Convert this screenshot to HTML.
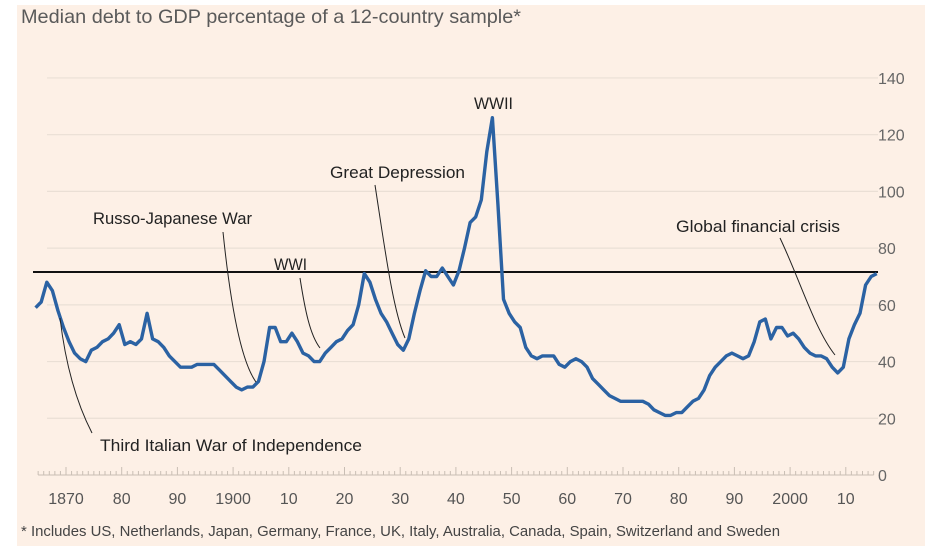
<!DOCTYPE html>
<html><head><meta charset="utf-8"><style>
html,body{margin:0;padding:0;background:#fff;}
svg{display:block;font-family:"Liberation Sans",sans-serif;}
</style></head><body>
<svg id="s" width="939" height="554" viewBox="0 0 939 554">
<rect x="17" y="5" width="908" height="541" fill="#fdf0e6"/>
<text x="21" y="23" font-size="19.5" fill="#5a5a5a" textLength="500" lengthAdjust="spacingAndGlyphs">Median debt to GDP percentage of a 12-country sample*</text>
<g id="grid" stroke="#eadfd5" stroke-width="1.2"></g>
<g id="ylab" font-size="16" fill="#666"></g>
<g id="xt" stroke="#c9beb4" stroke-width="1"></g>
<g id="xlab" font-size="16" fill="#555" text-anchor="middle"></g>
<line x1="33" y1="272" x2="878" y2="272" stroke="#111" stroke-width="2"/>
<path id="ln" fill="none" stroke="#2b62a3" stroke-width="3.4" stroke-linejoin="round"/>
<g fill="none" stroke="#222" stroke-width="1">
<path d="M223,232 C230,300 240,360 256,382"/>
<path d="M300,278 C305,310 310,335 320,348"/>
<path d="M375,185 C385,250 393,310 405,338"/>
<path d="M780,238 C800,280 815,330 835,355"/>
<path d="M92,433 C75,400 65,360 60,318"/>
</g>
<g fill="#222" font-size="16.5">
<text x="474" y="109" textLength="39" lengthAdjust="spacingAndGlyphs">WWII</text>
<text x="330" y="178" textLength="135" lengthAdjust="spacingAndGlyphs">Great Depression</text>
<text x="93" y="224" textLength="159" lengthAdjust="spacingAndGlyphs">Russo-Japanese War</text>
<text x="274" y="270" textLength="33" lengthAdjust="spacingAndGlyphs">WWI</text>
<text x="676" y="232" textLength="164" lengthAdjust="spacingAndGlyphs">Global financial crisis</text>
<text x="100" y="451" textLength="262" lengthAdjust="spacingAndGlyphs">Third Italian War of Independence</text>
</g>
<text x="21" y="536" font-size="14.5" fill="#444" textLength="759" lengthAdjust="spacingAndGlyphs">* Includes US, Netherlands, Japan, Germany, France, UK, Italy, Australia, Canada, Spain, Switzerland and Sweden</text>
</svg>
<script>
var ns="http://www.w3.org/2000/svg";
function el(p,t,a,txt){var e=document.createElementNS(ns,t);for(var k in a)e.setAttribute(k,a[k]);if(txt)e.textContent=txt;document.getElementById(p).appendChild(e);}
function Y(v){return 475-v*2.836;}
function X(y){return 66+(y-1870)*5.57;}
for(var v=20;v<=140;v+=20){el("grid","line",{x1:47,x2:878,y1:Y(v),y2:Y(v)});}
for(var v=0;v<=140;v+=20){el("ylab","text",{x:878,y:Y(v)+6},""+v);}
for(var yr=1865;yr<=2015;yr++){var big=yr%10==0;el("xt","line",{x1:X(yr),x2:X(yr),y1:475,y2:475-(big?8:4)});}
el("xt","line",{x1:X(1865),x2:X(2015),y1:475,y2:475});
var labs=["1870","80","90","1900","10","20","30","40","50","60","70","80","90","2000","10"];
for(var i=0;i<labs.length;i++){el("xlab","text",{x:X(1870+i*10),y:504},labs[i]);}
var d=[59,61,68,65,58,52,47,43,41,40,44,45,47,48,50,53,46,47,46,48,57,48,47,45,42,40,38,38,38,39,39,39,39,37,35,33,31,30,31,31,33,40,52,52,47,47,50,47,43,42,40,40,43,45,47,48,51,53,60,71,68,62,57,54,50,46,44,48,57,65,72,70,70,73,70,67,72,80,89,91,97,114,126,95,62,57,54,52,45,42,41,42,42,42,39,38,40,41,40,38,34,32,30,28,27,26,26,26,26,26,25,23,22,21,21,22,22,24,26,27,30,35,38,40,42,43,42,41,42,47,54,55,48,52,52,49,50,48,45,43,42,42,41,38,36,38,48,53,57,67,70,71];
var p="";for(var i=0;i<d.length;i++){var yr=1865+i;var x=X(yr)-2.5;if(x>879)x=879;p+=(i?"L":"M")+x.toFixed(1)+","+Y(d[i]).toFixed(1);}
document.getElementById("ln").setAttribute("d",p);
</script>
</body></html>
